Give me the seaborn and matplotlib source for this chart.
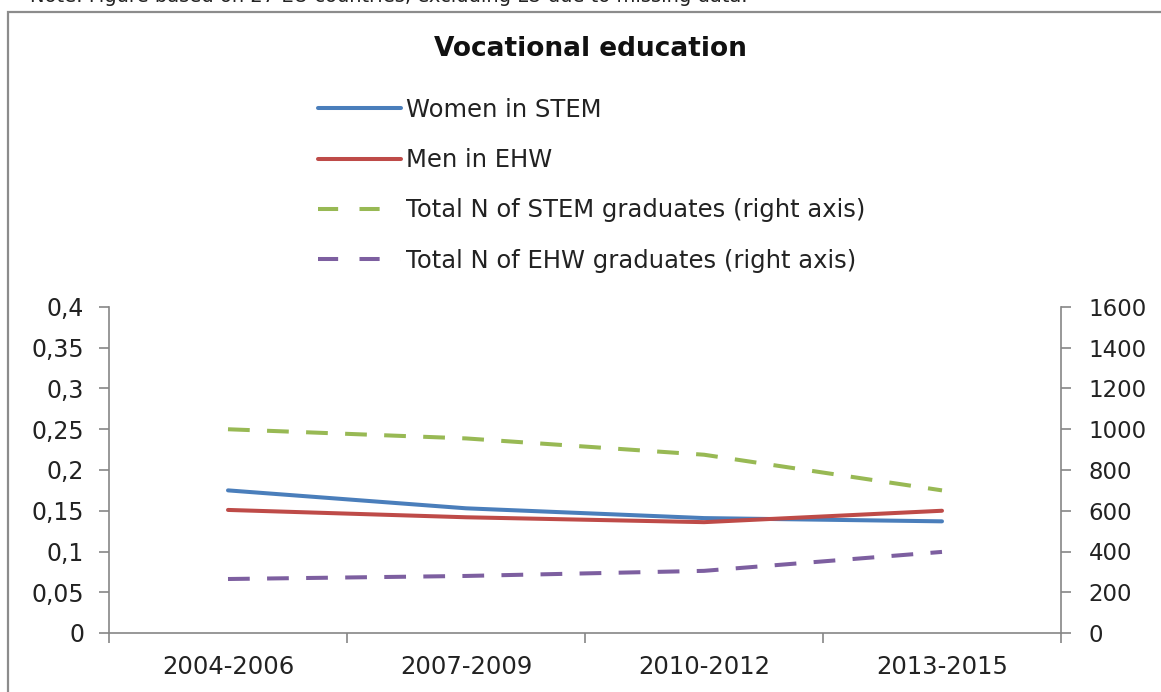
import matplotlib
matplotlib.use("Agg")
import matplotlib.pyplot as plt
from matplotlib.patches import Rectangle
from matplotlib.ticker import FuncFormatter, FixedLocator
import seaborn as sns
import pandas as pd

periods = ["2004-2006", "2007-2009", "2010-2012", "2013-2015"]
women_stem = [0.175, 0.153, 0.141, 0.137]
men_ehw = [0.151, 0.142, 0.136, 0.150]
total_stem = [1000, 955, 875, 700]
total_ehw = [265, 280, 305, 398]

sns.set_style("white")
plt.rcParams["font.family"] = ["DejaVu Sans"]

fig = plt.figure(figsize=(11.61, 6.92), dpi=100)
ax = fig.add_axes([109 / 1161, 1 - 633 / 692, (1061 - 109) / 1161, (633 - 307) / 692])
ax2 = ax.twinx()

df = pd.DataFrame({"period": periods, "x": range(len(periods)),
                   "women": women_stem, "men": men_ehw,
                   "stem": total_stem, "ehw": total_ehw})

lw = 2.9
sns.lineplot(data=df, x="x", y="women", ax=ax, color="#4A7EBB", lw=lw,
             label="Women in STEM", legend=False)
sns.lineplot(data=df, x="x", y="men", ax=ax, color="#BE4B48", lw=lw,
             label="Men in EHW", legend=False)
sns.lineplot(data=df, x="x", y="stem", ax=ax2, color="#98B954", lw=lw,
             label="Total N of STEM graduates (right axis)", legend=False)
sns.lineplot(data=df, x="x", y="ehw", ax=ax2, color="#7D5FA0", lw=lw,
             label="Total N of EHW graduates (right axis)", legend=False)
for line in ax2.get_lines():
    line.set_dashes((5.4, 4.3))

ax.set_xlim(-0.5, len(periods) - 0.5)
ax.set_ylim(0, 0.4)
ax2.set_ylim(0, 1600)
ax.set_yticks([i * 0.05 for i in range(9)])
ax2.set_yticks(range(0, 1601, 200))
ax.yaxis.set_major_formatter(FuncFormatter(lambda v, p: f"{v:g}".replace(".", ",")))

ax.set_xticks(range(len(periods)))
ax.set_xticklabels(periods)
ax.xaxis.set_minor_locator(FixedLocator([i - 0.5 for i in range(len(periods) + 1)]))
ax.set_xlabel("")
ax.set_ylabel("")
ax2.set_ylabel("")

axis_col = "#868686"
text_col = "#222222"
for a in (ax, ax2):
    for s in a.spines.values():
        s.set_color(axis_col)
        s.set_linewidth(1.2)
    a.spines["top"].set_visible(False)
ax.spines["right"].set_visible(False)
ax2.spines["left"].set_visible(False)
ax2.spines["bottom"].set_visible(False)

ax.tick_params(axis="y", which="major", direction="out", length=7, width=1.2,
               color=axis_col, labelsize=17, labelcolor=text_col, pad=11, left=True)
ax2.tick_params(axis="y", which="major", direction="out", length=7, width=1.2,
                color=axis_col, labelsize=16.5, labelcolor=text_col, pad=13, right=True)
ax.tick_params(axis="x", which="major", length=0, labelsize=17.5,
               labelcolor=text_col, pad=16)
ax.tick_params(axis="x", which="minor", direction="out", length=7, width=1.2,
               color=axis_col, bottom=True)

fig.text(590 / 1161, 1 - 49 / 692, "Vocational education", ha="center", va="center",
         fontsize=19, fontweight="bold", color="#111111")

handles = ax.get_lines() + ax2.get_lines()
labels = [h.get_label() for h in handles]
leg = fig.legend(handles, labels, loc="upper left",
                 bbox_to_anchor=(318 / 1161, 1 - 98 / 692), frameon=False,
                 fontsize=17.5, handlelength=3.4, handletextpad=0.2,
                 labelspacing=1.08, borderpad=0, borderaxespad=0)
for t in leg.get_texts():
    t.set_color(text_col)
for h in leg.legend_handles[2:]:
    h.set_dashes((5.0, 5.3))

fig.text(30 / 1161, 1 - 6 / 692, "Note: Figure based on 27 EU countries, excluding LU due to missing data.",
         ha="left", va="bottom", fontsize=14, color=text_col)

fig.patches.append(Rectangle((8 / 1161, -0.5), 2.0, 0.5 + 1 - 12 / 692,
                             transform=fig.transFigure, fill=False,
                             edgecolor="#8c8c8c", lw=1.6, clip_on=False))

fig.savefig("out.png", dpi=100, facecolor="white")
